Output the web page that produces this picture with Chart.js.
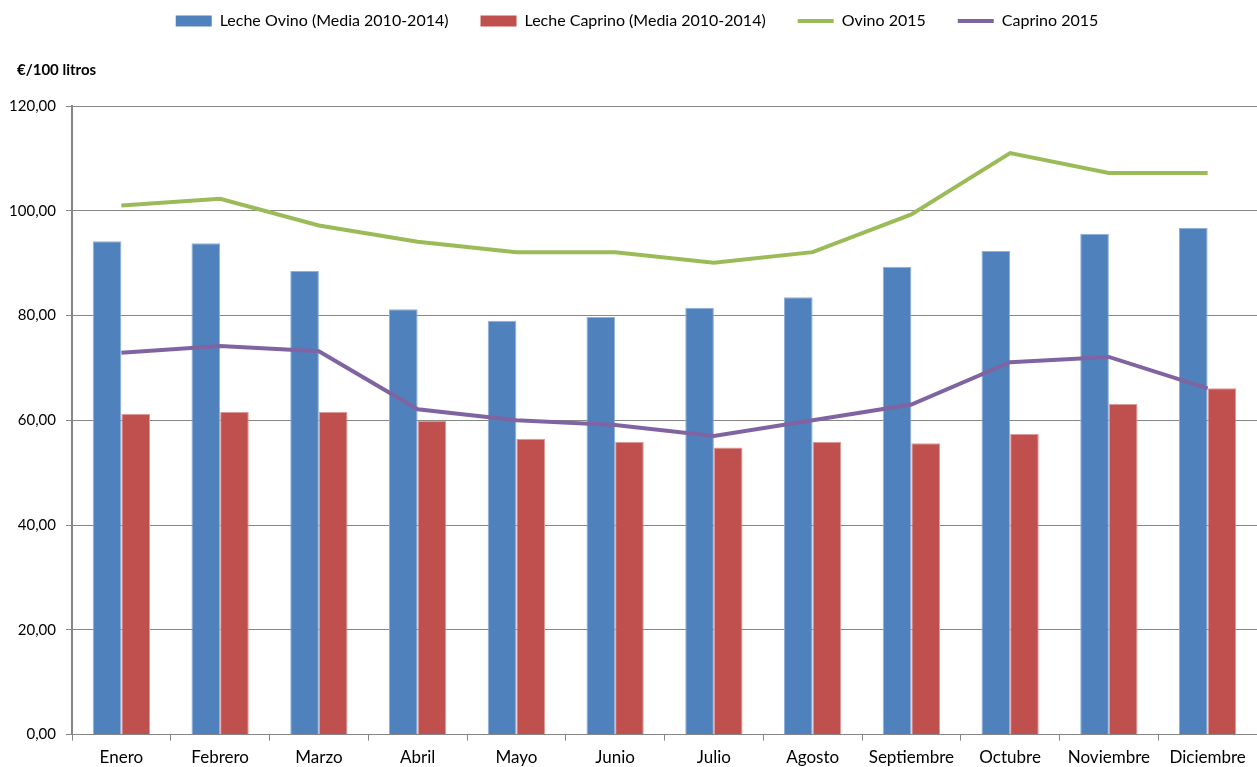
<!DOCTYPE html>
<html>
<head>
<meta charset="utf-8">
<script src="https://cdn.jsdelivr.net/npm/chart.js@4.4.1/dist/chart.umd.min.js"></script>
<style>
  html, body { margin: 0; padding: 0; background: #fff; }
  #wrap { width: 1257px; height: 767px; }
</style>
</head>
<body>
<div id="wrap"><canvas id="precios" width="1257" height="767"></canvas></div>
<script>
// Precio leche de oveja y cabra, €/100 litros
const meses = ['Enero', 'Febrero', 'Marzo', 'Abril', 'Mayo', 'Junio', 'Julio',
               'Agosto', 'Septiembre', 'Octubre', 'Noviembre', 'Diciembre'];
const ovinoMedia   = [94.2, 93.8, 88.5, 81.2, 79.0, 79.7, 81.5, 83.5, 89.3, 92.3, 95.6, 96.7];
const caprinoMedia = [61.2, 61.6, 61.6, 59.9, 56.5, 55.9, 54.8, 55.9, 55.6, 57.4, 63.1, 66.1];
const ovino2015    = [101.0, 102.3, 97.2, 94.1, 92.1, 92.1, 90.1, 92.1, 99.3, 111.0, 107.2, 107.2];
const caprino2015  = [72.9, 74.2, 73.2, 62.1, 60.0, 59.1, 57.0, 60.0, 63.0, 71.1, 72.1, 66.1];
const yTicks = [0, 20, 40, 60, 80, 100, 120];

const gris = '#868686';
const fuente = 'Lato, "Open Sans", sans-serif';

Chart.defaults.font.family = fuente;
Chart.defaults.color = '#000';

// las etiquetas del eje Y sobresalen a la izquierda del hueco del título:
// ampliar el recorte de las etiquetas hasta el borde del lienzo
const etiquetasY = {
    id: 'etiquetasY',
    afterLayout(chart) {
        chart.scales.y.left = 0;
    }
};

const ctx = document.getElementById('precios').getContext('2d');

new Chart(ctx, {
    type: 'bar',
    data: {
        labels: meses,
        datasets: [
            {
                label: 'Leche Ovino (Media 2010-2014)',
                data: ovinoMedia,
                backgroundColor: '#4F81BD',
                borderColor: '#8fb0da',
                borderWidth: 1,
                order: 3
            },
            {
                label: 'Leche Caprino (Media 2010-2014)',
                data: caprinoMedia,
                backgroundColor: '#C0504D',
                borderColor: '#de9a98',
                borderWidth: 1,
                order: 4
            },
            {
                type: 'line',
                label: 'Ovino 2015',
                data: ovino2015,
                borderColor: '#9BBB59',
                backgroundColor: '#9BBB59',
                borderWidth: 4,
                pointRadius: 0,
                tension: 0,
                order: 1
            },
            {
                type: 'line',
                label: 'Caprino 2015',
                data: caprino2015,
                borderColor: '#8064A2',
                backgroundColor: '#8064A2',
                borderWidth: 4,
                pointRadius: 0,
                tension: 0,
                order: 2
            }
        ]
    },
    options: {
        responsive: false,
        animation: false,
        layout: { padding: { left: 17, right: 0, top: -19, bottom: -8 } },
        datasets: {
            bar: { categoryPercentage: 0.58, barPercentage: 1 }
        },
        plugins: {
            tooltip: { enabled: false },
            legend: {
                position: 'top',
                labels: {
                    font: { size: 16 },
                    usePointStyle: true,
                    pointStyleWidth: 36,
                    boxHeight: 11,
                    padding: 32,
                    generateLabels(chart) {
                        return chart.data.datasets.map((ds, i) => {
                            const linea = ds.type === 'line';
                            return {
                                text: ds.label,
                                datasetIndex: i,
                                fillStyle: ds.backgroundColor,
                                strokeStyle: ds.borderColor,
                                lineWidth: linea ? 4 : 0,
                                pointStyle: linea ? 'line' : 'rect',
                                hidden: !chart.isDatasetVisible(i)
                            };
                        });
                    }
                }
            },
            title: {
                display: true,
                text: '€/100 litros',
                align: 'start',
                weight: 500,
                font: { size: 15, weight: 'bold' },
                padding: { top: 22, bottom: 27 }
            }
        },
        scales: {
            x: {
                grid: {
                    display: true,
                    drawOnChartArea: false,
                    drawTicks: true,
                    tickLength: 6,
                    color: gris
                },
                border: { color: gris, width: 1 },
                ticks: { font: { size: 17 }, padding: 7, maxRotation: 0, autoSkip: false }
            },
            y: {
                min: 0,
                max: 120,
                afterBuildTicks(scale) {
                    scale.ticks = yTicks.map(v => ({ value: v }));
                },
                afterFit(scale) {
                    scale.width = 55;
                },
                grid: {
                    color: gris,
                    lineWidth: 1,
                    tickLength: 6
                },
                border: { color: gris, width: 2 },
                ticks: {
                    font: { size: 15 },
                    padding: 10,
                    callback: v => v.toFixed(2).replace('.', ',')
                }
            }
        }
    },
    plugins: [etiquetasY]
});
</script>
</body>
</html>
